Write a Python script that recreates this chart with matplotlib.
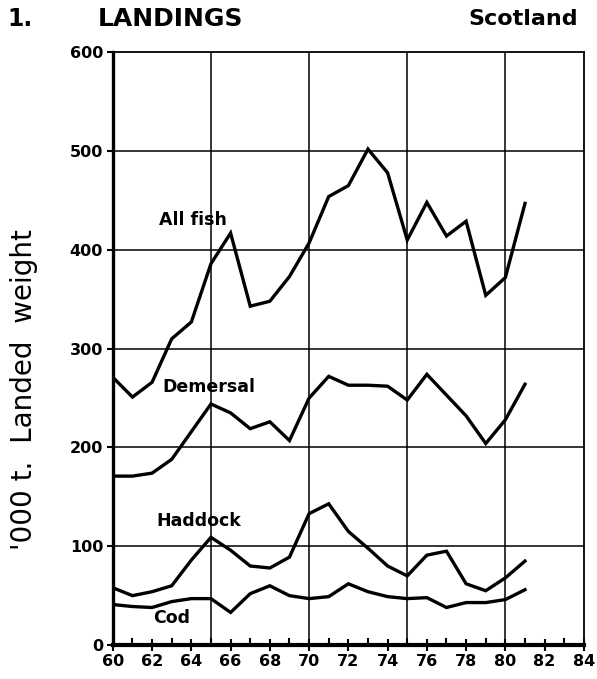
import matplotlib
matplotlib.use("Agg")
import matplotlib.pyplot as plt
from matplotlib.ticker import MultipleLocator

years = list(range(60, 82))
all_fish = [271, 251, 266, 310, 327, 386, 417, 343, 348, 373, 407, 454,
            465, 502, 478, 410, 448, 414, 429, 354, 372, 447]
demersal = [171, 171, 174, 188, 216, 244, 235, 219, 226, 207, 250, 272,
            263, 263, 262, 248, 274, 253, 232, 204, 228, 264]
haddock = [58, 50, 54, 60, 86, 109, 96, 80, 78, 89, 133, 143,
           115, 98, 80, 70, 91, 95, 62, 55, 68, 85]
cod = [41, 39, 38, 44, 47, 47, 33, 52, 60, 50, 47, 49,
       62, 54, 49, 47, 48, 38, 43, 43, 46, 56]

series_labels = ["All fish", "Demersal", "Haddock", "Cod"]
label_pos = [(64.1, 430), (64.9, 261), (64.4, 126), (63.0, 27)]

plt.rcParams["font.family"] = "DejaVu Sans"

fig = plt.figure(figsize=(5.97, 6.79), dpi=100)
ax = fig.add_axes([0.189, 0.050, 0.789, 0.873])

for vals in (all_fish, demersal, haddock, cod):
    ax.plot(years, vals, color="black", lw=2.4, solid_joinstyle="miter")

for text, (x, y) in zip(series_labels, label_pos):
    ax.text(x, y, text, ha="center", va="center", fontsize=12.5,
            fontweight="bold")

ax.set_xlim(60, 84)
ax.set_ylim(0, 600)
ax.set_xticks(range(60, 86, 2))
ax.set_xticklabels([str(v) for v in range(60, 86, 2)])
ax.xaxis.set_minor_locator(MultipleLocator(1))
ax.set_yticks(range(0, 700, 100))

for v in (65, 70, 75, 80):
    ax.axvline(v, color="black", lw=1.1)
for v in range(100, 600, 100):
    ax.axhline(v, color="black", lw=1.1)

ax.tick_params(axis="x", which="major", direction="inout", length=9, width=1.5,
               labelsize=11.5, pad=2)
ax.tick_params(axis="x", which="minor", direction="in", length=5, width=1.5)
ax.tick_params(axis="y", which="major", direction="out", length=4, width=1.5,
               labelsize=11.5, pad=3)
for lab in ax.get_xticklabels() + ax.get_yticklabels():
    lab.set_fontweight("heavy")

ax.spines["left"].set_linewidth(2.4)
ax.spines["bottom"].set_linewidth(3.0)
ax.spines["top"].set_linewidth(1.3)
ax.spines["right"].set_linewidth(1.3)

fig.text(0.040, 0.426, "'000 t.  Landed  weight", fontsize=20, rotation=90,
         ha="center", va="center")

fig.text(0.013, 0.972, "1.", fontsize=17, fontweight="bold", va="center")
fig.text(0.163, 0.972, "LANDINGS", fontsize=18, fontweight="bold", va="center")
fig.text(0.968, 0.972, "Scotland", fontsize=16, fontweight="bold", va="center",
         ha="right")

fig.savefig("out.png", dpi=100)
